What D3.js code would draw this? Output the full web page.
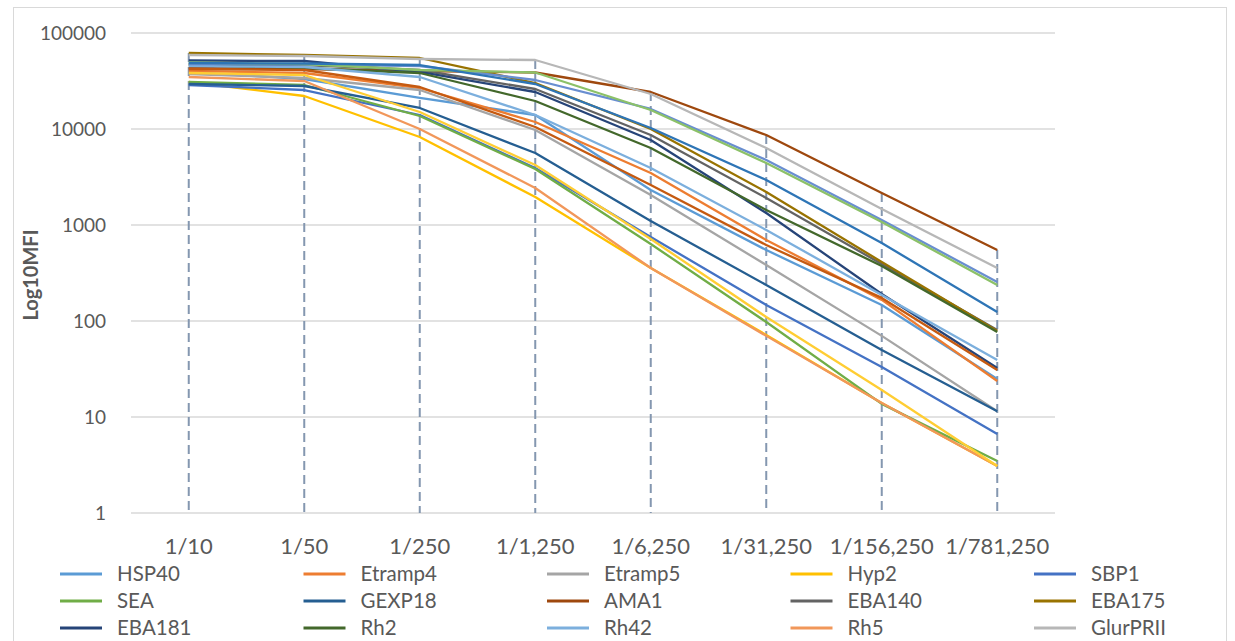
<!DOCTYPE html>
<html>
<head>
<meta charset="utf-8">
<script src="https://cdn.jsdelivr.net/npm/d3@7"></script>
<style>
  body { margin: 0; background: #fff; }
  svg { display: block; font-family: Lato, "Open Sans", sans-serif; }
</style>
</head>
<body>
<div id="chart"></div>
<script>
const dilutions = ['1/10', '1/50', '1/250', '1/1,250', '1/6,250', '1/31,250', '1/156,250', '1/781,250'];
const yTicks = [1, 10, 100, 1000, 10000, 100000];

// MFI per dilution
const HSP40    = [39250, 33170, 21040, 13990, 2316, 549, 147, 24.9];
const Etramp4  = [40200, 38310, 26740, 11830, 3480, 698, 166, 23.7];
const Etramp5  = [37400, 33980, 25480, 9760, 2054, 383, 70, 11.5];
const Hyp2     = [30870, 22070, 8250, 1957, 356, 71.5, 14.0, 3.09];
const SBP1     = [28730, 25480, 13990, 3925, 750, 147, 33.2, 6.65];
const SEA      = [30870, 28730, 13660, 3830, 634, 97.6, 13.7, 3.48];
const GEXP18   = [29430, 28050, 16550, 5620, 1101, 237, 49.9, 11.5];
const AMA1     = [43200, 42170, 40200, 38770, 24290, 8660, 2154, 549];
const EBA140   = [47550, 46400, 41170, 26100, 8660, 1911, 392, 80.6];
const EBA175   = [61900, 58990, 54900, 30140, 10000, 2207, 412, 78.7];
const EBA181   = [51700, 51100, 39250, 24290, 7680, 1334, 191, 32.4];
const Rh2      = [46400, 43200, 38310, 19570, 6340, 1433, 374, 76.8];
const Rh42     = [45300, 44240, 34800, 13990, 3925, 887, 187, 39.3];
const Rh5      = [34800, 31620, 10000, 2429, 356, 70, 14.0, 3.09];
const GlurPRII = [58990, 57600, 53600, 52330, 23160, 6340, 1468, 356];
// series whose legend entries fall below the visible area
const series16 = [38310, 36520, 15030, 4217, 715, 110, 19.1, 3.09];
const series17 = [47550, 46980, 45300, 32390, 16160, 4755, 1127, 255];
const series18 = [49300, 47550, 41170, 38770, 15770, 4424, 1075, 237];
const series19 = [48700, 48120, 46400, 29430, 10240, 2943, 649, 124];
const series20 = [42170, 41170, 27380, 10490, 2610, 619, 174, 30.9];

const legendNames = ['HSP40', 'Etramp4', 'Etramp5', 'Hyp2', 'SBP1', 'SEA', 'GEXP18', 'AMA1',
                     'EBA140', 'EBA175', 'EBA181', 'Rh2', 'Rh42', 'Rh5', 'GlurPRII'];
const allSeries = [HSP40, Etramp4, Etramp5, Hyp2, SBP1, SEA, GEXP18, AMA1, EBA140, EBA175,
                   EBA181, Rh2, Rh42, Rh5, GlurPRII, series16, series17, series18, series19, series20];
const colors = ['#5B9BD5', '#ED7D31', '#A5A5A5', '#FFC000', '#4472C4', '#70AD47', '#255E91', '#9E480E',
                '#636363', '#997300', '#264478', '#43682B', '#7CAFDD', '#F1975A', '#B7B7B7',
                '#FFCD33', '#698ED0', '#8CC168', '#2E75B6', '#C55A11'];

const width = 1235, height = 641;
const plot = { left: 131, right: 1055, top: 33, bottom: 513 };
const textColor = '#595959';

const svg = d3.select('#chart').append('svg')
    .attr('width', width)
    .attr('height', height);

// chart area border
svg.append('rect')
    .attr('x', 13.5).attr('y', 7.5)
    .attr('width', 1213).attr('height', 660)
    .attr('fill', 'none')
    .attr('stroke', '#D9D9D9');

const x = d3.scaleBand()
    .domain(dilutions)
    .range([plot.left, plot.right]);
const cx = d => x(d) + x.bandwidth() / 2;

const y = d3.scaleLog()
    .domain([1, 100000])
    .range([plot.bottom, plot.top]);

// gridlines
svg.append('g')
    .selectAll('line')
    .data(yTicks)
    .join('line')
    .attr('x1', plot.left).attr('x2', plot.right)
    .attr('y1', d => y(d)).attr('y2', d => y(d))
    .attr('stroke', '#D9D9D9')
    .attr('stroke-width', 1.3);

// y axis labels
const yAxis = svg.append('g')
    .attr('transform', `translate(${plot.left - 22},0)`)
    .call(d3.axisLeft(y).tickValues(yTicks).tickFormat(d3.format('d')).tickSize(0));
yAxis.select('.domain').remove();
yAxis.selectAll('text')
    .attr('fill', textColor)
    .attr('font-size', 19)
    .attr('font-family', 'Lato, sans-serif');

// x axis labels
const xAxis = svg.append('g')
    .attr('transform', `translate(0,${plot.bottom + 22})`)
    .call(d3.axisBottom(x).tickSize(0));
xAxis.select('.domain').remove();
xAxis.selectAll('text')
    .attr('fill', textColor)
    .attr('font-size', 22)
    .attr('font-family', 'Lato, sans-serif');

svg.append('text')
    .attr('transform', `translate(38,${(plot.top + plot.bottom) / 2 + 2}) rotate(-90)`)
    .attr('text-anchor', 'middle')
    .attr('fill', textColor)
    .attr('font-size', 20)
    .attr('font-weight', 'bold')
    .text('Log10MFI');

// drop lines from the highest value at each dilution
const maxima = dilutions.map((d, i) => d3.max(allSeries, s => s[i]));
svg.append('g')
    .selectAll('line')
    .data(dilutions)
    .join('line')
    .attr('x1', d => cx(d)).attr('x2', d => cx(d))
    .attr('y1', (d, i) => y(maxima[i]))
    .attr('y2', plot.bottom)
    .attr('stroke', '#8497B0')
    .attr('stroke-width', 2)
    .attr('stroke-dasharray', '9,5');

const line = d3.line()
    .x((v, i) => cx(dilutions[i]))
    .y(v => y(v));

svg.append('g')
    .selectAll('path')
    .data(allSeries)
    .join('path')
    .attr('d', line)
    .attr('fill', 'none')
    .attr('stroke', (s, i) => colors[i])
    .attr('stroke-width', 2.3)
    .attr('stroke-linejoin', 'round');

// legend, 5 columns
const legend = svg.append('g');
legendNames.forEach((name, i) => {
    const col = i % 5;
    const row = Math.floor(i / 5);
    const lx = 60 + col * 243.5;
    const ly = 574 + row * 27;
    legend.append('line')
        .attr('x1', lx).attr('x2', lx + 42)
        .attr('y1', ly).attr('y2', ly)
        .attr('stroke', colors[i])
        .attr('stroke-width', 3);
    legend.append('text')
        .attr('x', lx + 57)
        .attr('y', ly)
        .attr('dy', '0.35em')
        .attr('fill', textColor)
        .attr('font-size', 20.5)
        .text(name);
});
</script>
</body>
</html>
